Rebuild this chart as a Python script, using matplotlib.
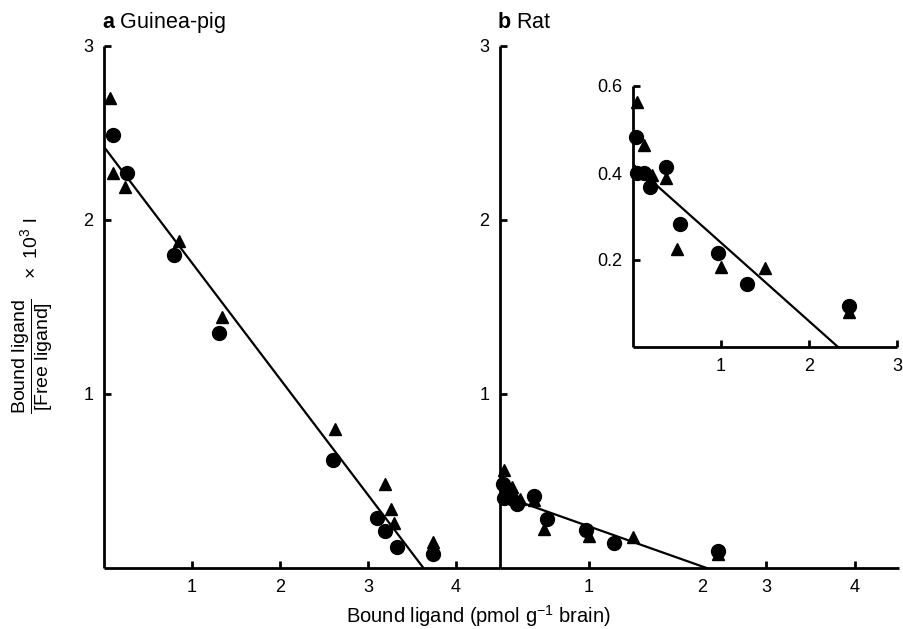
import matplotlib
matplotlib.use("Agg")
import matplotlib.pyplot as plt

plt.rcParams['font.family'] = ['Liberation Sans', 'DejaVu Sans']
plt.rcParams['mathtext.fontset'] = 'custom'
plt.rcParams['mathtext.rm'] = 'Liberation Sans'
plt.rcParams['mathtext.it'] = 'Liberation Sans:italic'
plt.rcParams['mathtext.bf'] = 'Liberation Sans:bold'

# ---- Panel a: Guinea-pig ----
gp_circle_x = [0.10, 0.26, 0.80, 1.31, 2.60, 3.10, 3.19, 3.33, 3.74]
gp_circle_y = [2.49, 2.27, 1.80, 1.35, 0.62, 0.29, 0.21, 0.12, 0.08]
gp_tri_x = [0.07, 0.10, 0.24, 0.85, 1.34, 2.63, 3.19, 3.26, 3.29, 3.74]
gp_tri_y = [2.70, 2.27, 2.19, 1.88, 1.44, 0.80, 0.48, 0.34, 0.26, 0.15]
gp_line_x = [0.0, 3.63]
gp_line_y = [2.42, 0.0]

# ---- Panel b: Rat (same data in main panel and inset) ----
rat_circle_x = [0.03, 0.05, 0.12, 0.19, 0.38, 0.53, 0.97, 1.29, 2.46]
rat_circle_y = [0.482, 0.400, 0.400, 0.368, 0.414, 0.283, 0.217, 0.145, 0.095]
rat_tri_x = [0.04, 0.13, 0.22, 0.38, 0.50, 1.00, 1.50, 2.46]
rat_tri_y = [0.564, 0.464, 0.395, 0.388, 0.225, 0.185, 0.181, 0.080]
rat_line_x = [0.0, 2.33]
rat_line_y = [0.42, 0.0]

main_yticks = [1, 2, 3]
a_xticks = [1, 2, 3, 4]
b_xticks = [1, 3, 4]
b_extra_label_x = 2.28
inset_yticks = [0.2, 0.4, 0.6]
inset_xticks = [1, 2, 3]

W, H = 904, 629
fig = plt.figure(figsize=(W / 100, H / 100), dpi=100)


def px_axes(l, r, t, b):
    return fig.add_axes([l / W, 1 - b / H, (r - l) / W, (b - t) / H])


def style(ax, lw=2.0, tsize=13):
    for s in ['top', 'right']:
        ax.spines[s].set_visible(False)
    for s in ['left', 'bottom']:
        ax.spines[s].set_linewidth(lw)
        ax.spines[s].set_capstyle('butt')
    ax.tick_params(direction='in', length=5, width=2.0, labelsize=tsize)
    ax.tick_params(axis='y', pad=7.5)
    ax.tick_params(axis='x', pad=8)


ms_c = 10
ms_t = 9

axa = px_axes(104, 500, 46, 568)
axa.plot(gp_line_x, gp_line_y, color='black', lw=1.6, zorder=2)
axa.plot(gp_circle_x, gp_circle_y, 'o', color='black', ms=ms_c, zorder=3, clip_on=False)
axa.plot(gp_tri_x, gp_tri_y, '^', color='black', ms=ms_t, zorder=3, clip_on=False)
axa.set_xlim(0, 4.5)
axa.set_ylim(0, 3)
axa.set_xticks(a_xticks)
axa.set_yticks(main_yticks)
style(axa)
axa.text(-0.005, 1.035, r'$\mathbf{a}$ Guinea-pig', transform=axa.transAxes, fontsize=15.5,
         ha='left', va='baseline')

axb = px_axes(500, 899, 46, 568)
axb.plot(rat_line_x, rat_line_y, color='black', lw=1.6, zorder=2)
axb.plot(rat_circle_x, rat_circle_y, 'o', color='black', ms=ms_c, zorder=3, clip_on=False)
axb.plot(rat_tri_x, rat_tri_y, '^', color='black', ms=ms_t, zorder=3, clip_on=False)
axb.set_xlim(0, 4.5)
axb.set_ylim(0, 3)
axb.set_xticks(b_xticks)
axb.set_yticks(main_yticks)
style(axb)
axb.annotate('2', xy=(b_extra_label_x, 0), xycoords=axb.get_xaxis_transform(),
             xytext=(0, -8), textcoords='offset points', fontsize=13,
             ha='center', va='top')
axb.text(-0.008, 1.035, r'$\mathbf{b}$ Rat', transform=axb.transAxes, fontsize=15.5,
         ha='left', va='baseline')

axi = px_axes(633, 897, 86, 347)
axi.plot(rat_line_x, rat_line_y, color='black', lw=1.6, zorder=2)
axi.plot(rat_circle_x, rat_circle_y, 'o', color='black', ms=ms_c, zorder=3, clip_on=False)
axi.plot(rat_tri_x, rat_tri_y, '^', color='black', ms=ms_t - 1, zorder=3, clip_on=False)
axi.set_xlim(0, 3)
axi.set_ylim(0, 0.6)
axi.set_xticks(inset_xticks)
axi.set_yticks(inset_yticks)
axi.set_yticklabels(['0.2', '0.4', '0.6'])
axi.patch.set_alpha(0)
style(axi)

fig.text(478 / W, 1 - 623 / H, r'Bound ligand (pmol g$^{-1}$ brain)', fontsize=14.5,
         ha='center', va='baseline')
fig.text(33 / W, 1 - 316 / H,
         r'$\dfrac{\mathrm{Bound\ ligand}}{\mathrm{[Free\ ligand]}}\quad\times\ 10^{3}\ \mathrm{l}$',
         fontsize=14, rotation=90, ha='center', va='center')

fig.savefig('out.png', dpi=100)
